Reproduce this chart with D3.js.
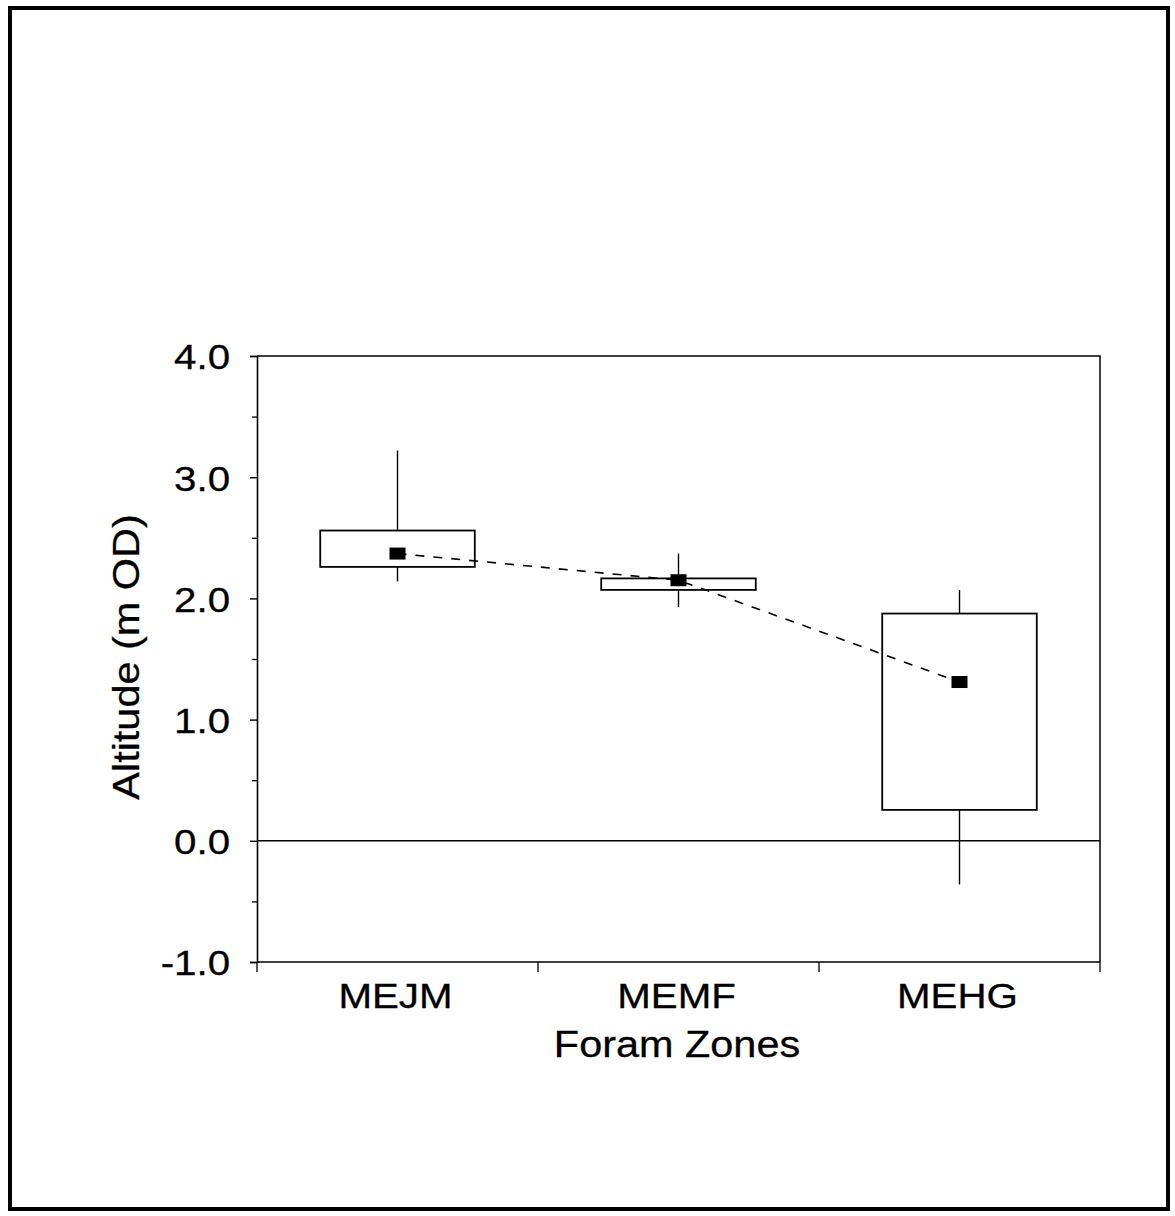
<!DOCTYPE html>
<html>
<head>
<meta charset="utf-8">
<script src="https://cdn.jsdelivr.net/npm/d3@7"></script>
<style>
  html, body { margin: 0; padding: 0; background: #fff; }
  svg { display: block; }
  text { font-family: "Liberation Sans", Arial, sans-serif; fill: #000; stroke: #000; stroke-width: 0.3px; }
</style>
</head>
<body>
<svg id="chart" width="1175" height="1216"></svg>
<script>
// Foram zones and altitude summaries (m OD)
const zones = ["MEJM", "MEMF", "MEHG"];
const whiskerHigh = [3.22, 2.37, 2.07];
const boxHigh = [2.56, 2.165, 1.875];
const meanValue = [2.37, 2.15, 1.31];
const boxLow = [2.26, 2.07, 0.255];
const whiskerLow = [2.14, 1.93, -0.36];
const yTicks = [-1.0, 0.0, 1.0, 2.0, 3.0, 4.0];
const yMinorTicks = [-0.5, 0.5, 1.5, 2.5, 3.5];

const svg = d3.select("#chart");
const stretch = 1.12;   // slightly wide lettering

// outer frame
svg.append("rect")
  .attr("x", 10).attr("y", 8).attr("width", 1158).attr("height", 1201)
  .attr("fill", "none").attr("stroke", "#000").attr("stroke-width", 4);

const plotLeft = 257, plotRight = 1100, plotTop = 356, plotBottom = 962;

const x = d3.scaleBand().domain(zones).range([plotLeft, plotRight]).paddingInner(0).paddingOuter(0);
const y = d3.scaleLinear().domain([-1, 4]).range([plotBottom, plotTop]);

const g = svg.append("g");

// plot frame (top and right)
g.append("path")
  .attr("d", `M${plotLeft},${plotTop}H${plotRight}V${plotBottom}`)
  .attr("fill", "none").attr("stroke", "#000").attr("stroke-width", 1.5);

// y axis
const yAxis = g.append("g").attr("transform", `translate(${plotLeft},0)`)
  .call(d3.axisLeft(y).tickValues(yTicks).tickFormat(d3.format(".1f")).tickSize(7).tickPadding(17));
yAxis.select(".domain").attr("stroke-width", 1.6);
yAxis.selectAll(".tick line").attr("stroke-width", 1.4);
yAxis.selectAll("text")
  .attr("font-size", 36)
  .style("font-family", "'Liberation Sans', Arial, sans-serif")
  .attr("dy", "0.36em")
  .attr("transform", `scale(${stretch},1)`)
  .text(d => d3.format(".1f")(d).replace("\u2212", "-"));
g.append("g").attr("transform", `translate(${plotLeft},0)`)
  .call(d3.axisLeft(y).tickValues(yMinorTicks).tickFormat("").tickSize(5).tickSizeOuter(0))
  .call(s => s.select(".domain").remove())
  .selectAll(".tick line").attr("stroke-width", 1.3);

// x axis: ticks at zone boundaries
const bounds = [plotLeft, ...zones.slice(1).map(z => x(z)), plotRight];
const xAxis = g.append("g").attr("transform", `translate(0,${plotBottom})`);
xAxis.append("line").attr("x1", plotLeft).attr("x2", plotRight).attr("stroke", "#000").attr("stroke-width", 1.6);
xAxis.selectAll("line.tk").data(bounds).join("line").attr("class", "tk")
  .attr("x1", d => d).attr("x2", d => d).attr("y1", 0).attr("y2", 10)
  .attr("stroke", "#000").attr("stroke-width", 1.3);
xAxis.selectAll("text.lbl").data(zones).join("text").attr("class", "lbl")
  .attr("transform", d => `translate(${x(d) + x.bandwidth() / 2 - 2},46) scale(${stretch},1)`)
  .attr("text-anchor", "middle").attr("font-size", 36).text(d => d);

// axis titles
svg.append("text")
  .attr("transform", `translate(677,1057) scale(${stretch},1)`)
  .attr("text-anchor", "middle").attr("font-size", 37)
  .text("Foram Zones");
svg.append("text")
  .attr("transform", `translate(139,657) rotate(-90) scale(${stretch},1)`)
  .attr("text-anchor", "middle").attr("font-size", 37)
  .text("Altitude (m OD)");

// zero reference line
g.append("line")
  .attr("x1", plotLeft).attr("x2", plotRight).attr("y1", y(0)).attr("y2", y(0))
  .attr("stroke", "#000").attr("stroke-width", 1.5);

const boxW = x.bandwidth() * 0.55;
const cx = z => x(z) + x.bandwidth() / 2;

const data = zones.map((z, i) => ({
  z, wh: whiskerHigh[i], bh: boxHigh[i], m: meanValue[i], bl: boxLow[i], wl: whiskerLow[i]
}));

const boxes = g.selectAll("g.box").data(data).join("g").attr("class", "box");
boxes.append("line")
  .attr("x1", d => cx(d.z)).attr("x2", d => cx(d.z))
  .attr("y1", d => y(d.wh)).attr("y2", d => y(d.bh))
  .attr("stroke", "#000").attr("stroke-width", 1.4);
boxes.append("line")
  .attr("x1", d => cx(d.z)).attr("x2", d => cx(d.z))
  .attr("y1", d => y(d.bl)).attr("y2", d => y(d.wl))
  .attr("stroke", "#000").attr("stroke-width", 1.4);
boxes.append("rect")
  .attr("x", d => cx(d.z) - boxW / 2).attr("width", boxW)
  .attr("y", d => y(d.bh)).attr("height", d => y(d.bl) - y(d.bh))
  .attr("fill", "#fff").attr("stroke", "#000").attr("stroke-width", 1.8);

// dashed line through the means
g.append("path")
  .datum(data)
  .attr("d", d3.line().x(d => cx(d.z)).y(d => y(d.m)))
  .attr("fill", "none").attr("stroke", "#000").attr("stroke-width", 1.6)
  .attr("stroke-dasharray", "9,9");

// mean markers
g.selectAll("rect.mean").data(data).join("rect").attr("class", "mean")
  .attr("x", d => cx(d.z) - 8).attr("y", d => y(d.m) - 6)
  .attr("width", 16).attr("height", 12).attr("fill", "#000");
</script>
</body>
</html>
